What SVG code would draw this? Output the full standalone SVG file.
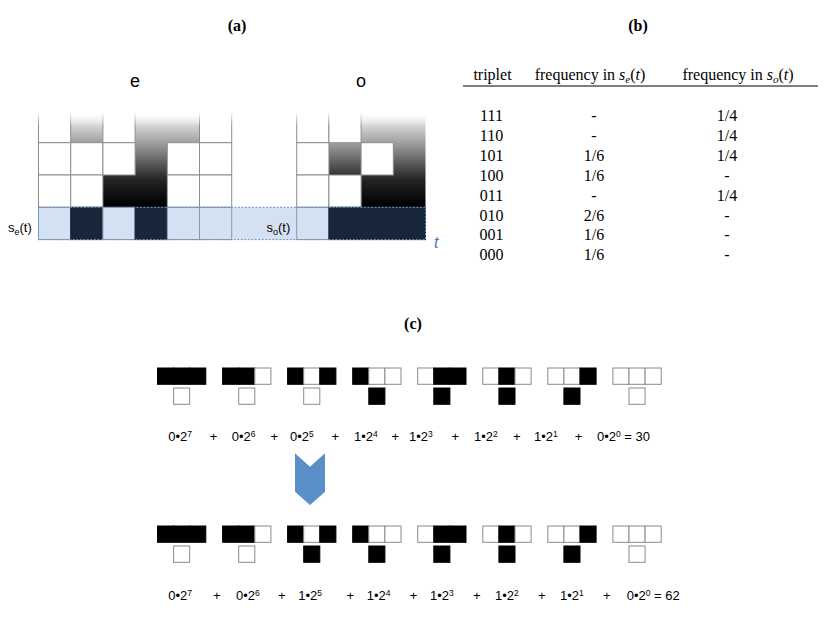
<svg xmlns="http://www.w3.org/2000/svg" width="830" height="623" viewBox="0 0 830 623">
<defs>
<linearGradient id="shade" gradientUnits="userSpaceOnUse" x1="0" y1="112" x2="0" y2="205">
<stop offset="0" stop-color="#ffffff"/>
<stop offset="0.35" stop-color="#9a9a9a"/>
<stop offset="0.72" stop-color="#262626"/>
<stop offset="1" stop-color="#000000"/>
</linearGradient>
<linearGradient id="fade" gradientUnits="userSpaceOnUse" x1="0" y1="108" x2="0" y2="126">
<stop offset="0" stop-color="#ffffff" stop-opacity="1"/>
<stop offset="0.2" stop-color="#ffffff" stop-opacity="1"/>
<stop offset="1" stop-color="#ffffff" stop-opacity="0"/>
</linearGradient>
<style>
.gw{fill:#ffffff;stroke:#8c8c8c;stroke-width:1}
.gl{fill:#d4e1f2;stroke:#8d97a6;stroke-width:1}
.gd{fill:#17263a;stroke:#17263a;stroke-width:1}
.sh{fill:url(#shade);stroke:none}
.w{fill:#ffffff;stroke:#8a8a8a;stroke-width:1}
.k{fill:#000000;stroke:#000000;stroke-width:1}
.ttl{font-family:"Liberation Serif","Times New Roman",serif;font-weight:bold;font-size:16px;text-anchor:middle;fill:#000}
.tb{font-family:"Liberation Serif","Times New Roman",serif;font-size:16px;text-anchor:middle;fill:#000}
.sans{font-family:"Liberation Sans",Arial,sans-serif;fill:#000}
.f{font-family:"Liberation Sans",Arial,sans-serif;font-size:13px;fill:#000}
.p{font-family:"Liberation Sans",Arial,sans-serif;font-size:13px;fill:#000;text-anchor:middle}
.sup{font-size:8.5px}
</style>
</defs>
<rect width="830" height="623" fill="#ffffff"/>

<!-- Titles -->
<g id="title-a"><text class="ttl" x="237" y="31">(a)</text></g>
<g id="title-b"><text class="ttl" x="638" y="31">(b)</text></g>
<g id="title-c"><text class="ttl" x="413" y="329">(c)</text></g>

<!-- Panel (a) -->
<g id="panel-a">
<text class="sans" x="135" y="86.5" font-size="18" text-anchor="middle">e</text>
<text class="sans" x="361" y="86.5" font-size="18" text-anchor="middle">o</text>

<rect x="38.5" y="207.3" width="387" height="32.3" fill="#d4e1f2"/>

<g id="grid-e">
<rect class="sh" x="70.7" y="110.4" width="32.2" height="32.3"/>
<polygon class="sh" points="135.1,110.4 199.5,110.4 199.5,142.7 167.3,142.7 167.3,207.3 102.9,207.3 102.9,175 135.1,175"/>
<rect class="gw" x="38.5" y="110.4" width="32.2" height="32.3"/>
<rect class="gw" x="102.9" y="110.4" width="32.2" height="32.3"/>
<rect class="gw" x="199.5" y="110.4" width="32.2" height="32.3"/>
<rect class="gw" x="38.5" y="142.7" width="32.2" height="32.3"/>
<rect class="gw" x="70.7" y="142.7" width="32.2" height="32.3"/>
<rect class="gw" x="102.9" y="142.7" width="32.2" height="32.3"/>
<rect class="gw" x="167.3" y="142.7" width="32.2" height="32.3"/>
<rect class="gw" x="199.5" y="142.7" width="32.2" height="32.3"/>
<rect class="gw" x="38.5" y="175" width="32.2" height="32.3"/>
<rect class="gw" x="70.7" y="175" width="32.2" height="32.3"/>
<rect class="gw" x="167.3" y="175" width="32.2" height="32.3"/>
<rect class="gw" x="199.5" y="175" width="32.2" height="32.3"/>
<rect class="gl" x="38.5" y="207.3" width="32.2" height="32.3"/>
<rect class="gd" x="70.7" y="207.3" width="32.2" height="32.3"/>
<rect class="gl" x="102.9" y="207.3" width="32.2" height="32.3"/>
<rect class="gd" x="135.1" y="207.3" width="32.2" height="32.3"/>
<rect class="gl" x="167.3" y="207.3" width="32.2" height="32.3"/>
<rect class="gl" x="199.5" y="207.3" width="32.2" height="32.3"/>
</g>

<g id="grid-o">
<rect class="sh" x="328.9" y="142.7" width="32.2" height="32.3"/>
<rect class="sh" x="361.1" y="110.4" width="64.4" height="96.9"/>
<rect class="gw" x="296.7" y="110.4" width="32.2" height="32.3"/>
<rect class="gw" x="328.9" y="110.4" width="32.2" height="32.3"/>
<rect class="gw" x="296.7" y="142.7" width="32.2" height="32.3"/>
<rect class="gw" x="361.1" y="142.7" width="32.2" height="32.3"/>
<rect class="gw" x="296.7" y="175" width="32.2" height="32.3"/>
<rect class="gw" x="328.9" y="175" width="32.2" height="32.3"/>
<rect class="gl" x="296.7" y="207.3" width="32.2" height="32.3"/>
<rect class="gd" x="328.9" y="207.3" width="96.6" height="32.3"/>
</g>

<rect x="34" y="106" width="396" height="20" fill="url(#fade)"/>

<rect x="38.5" y="207.3" width="387" height="32.3" fill="none" stroke="#6f93c4" stroke-width="1" stroke-dasharray="2,1.5"/>

<text class="sans" x="8" y="232" font-size="13">s<tspan font-size="9" dy="3">e</tspan><tspan dy="-3">(t)</tspan></text>
<text class="sans" x="266.5" y="232" font-size="13">s<tspan font-size="9" dy="3">o</tspan><tspan dy="-3">(t)</tspan></text>
<text class="sans" x="434" y="248" font-size="16" font-style="italic" style="fill:#4a78b8">t</text>
</g>

<!-- Panel (b) table -->
<g id="table-b">
<text class="tb" x="492.5" y="80">triplet</text>
<text class="tb" x="590" y="80">frequency in <tspan font-style="italic">s</tspan><tspan font-style="italic" font-size="11" dy="3">e</tspan><tspan dy="-3">(</tspan><tspan font-style="italic">t</tspan>)</text>
<text class="tb" x="738" y="80">frequency in <tspan font-style="italic">s</tspan><tspan font-style="italic" font-size="11" dy="3">o</tspan><tspan dy="-3">(</tspan><tspan font-style="italic">t</tspan>)</text>
<line x1="463" y1="86" x2="818" y2="86" stroke="#000" stroke-width="1"/>

<text class="tb" x="491.5" y="121">111</text>
<text class="tb" x="491.5" y="141">110</text>
<text class="tb" x="491.5" y="160.8">101</text>
<text class="tb" x="491.5" y="180.7">100</text>
<text class="tb" x="491.5" y="200.6">011</text>
<text class="tb" x="491.5" y="220.5">010</text>
<text class="tb" x="491.5" y="240.4">001</text>
<text class="tb" x="491.5" y="260.3">000</text>

<text class="tb" x="594" y="121">-</text>
<text class="tb" x="594" y="141">-</text>
<text class="tb" x="594" y="160.8">1/6</text>
<text class="tb" x="594" y="180.7">1/6</text>
<text class="tb" x="594" y="200.6">-</text>
<text class="tb" x="594" y="220.5">2/6</text>
<text class="tb" x="594" y="240.4">1/6</text>
<text class="tb" x="594" y="260.3">1/6</text>

<text class="tb" x="727" y="121">1/4</text>
<text class="tb" x="727" y="141">1/4</text>
<text class="tb" x="727" y="160.8">1/4</text>
<text class="tb" x="727" y="180.7">-</text>
<text class="tb" x="727" y="200.6">1/4</text>
<text class="tb" x="727" y="220.5">-</text>
<text class="tb" x="727" y="240.4">-</text>
<text class="tb" x="727" y="260.3">-</text>
</g>

<!-- Panel (c) rule 30 row -->
<g id="rule30-icons">
<g transform="translate(157.5,368)"><rect class="k" x="0" y="0" width="16.1" height="16.3"/><rect class="k" x="16.1" y="0" width="16.1" height="16.3"/><rect class="k" x="32.2" y="0" width="16.1" height="16.3"/><rect class="w" x="16.1" y="20" width="16.1" height="16.3"/></g>
<g transform="translate(222.6,368)"><rect class="k" x="0" y="0" width="16.1" height="16.3"/><rect class="k" x="16.1" y="0" width="16.1" height="16.3"/><rect class="w" x="32.2" y="0" width="16.1" height="16.3"/><rect class="w" x="16.1" y="20" width="16.1" height="16.3"/></g>
<g transform="translate(287.6,368)"><rect class="k" x="0" y="0" width="16.1" height="16.3"/><rect class="w" x="16.1" y="0" width="16.1" height="16.3"/><rect class="k" x="32.2" y="0" width="16.1" height="16.3"/><rect class="w" x="16.1" y="20" width="16.1" height="16.3"/></g>
<g transform="translate(352.7,368)"><rect class="k" x="0" y="0" width="16.1" height="16.3"/><rect class="w" x="16.1" y="0" width="16.1" height="16.3"/><rect class="w" x="32.2" y="0" width="16.1" height="16.3"/><rect class="k" x="16.1" y="20" width="16.1" height="16.3"/></g>
<g transform="translate(417.7,368)"><rect class="w" x="0" y="0" width="16.1" height="16.3"/><rect class="k" x="16.1" y="0" width="16.1" height="16.3"/><rect class="k" x="32.2" y="0" width="16.1" height="16.3"/><rect class="k" x="16.1" y="20" width="16.1" height="16.3"/></g>
<g transform="translate(482.8,368)"><rect class="w" x="0" y="0" width="16.1" height="16.3"/><rect class="k" x="16.1" y="0" width="16.1" height="16.3"/><rect class="w" x="32.2" y="0" width="16.1" height="16.3"/><rect class="k" x="16.1" y="20" width="16.1" height="16.3"/></g>
<g transform="translate(547.8,368)"><rect class="w" x="0" y="0" width="16.1" height="16.3"/><rect class="w" x="16.1" y="0" width="16.1" height="16.3"/><rect class="k" x="32.2" y="0" width="16.1" height="16.3"/><rect class="k" x="16.1" y="20" width="16.1" height="16.3"/></g>
<g transform="translate(612.9,368)"><rect class="w" x="0" y="0" width="16.1" height="16.3"/><rect class="w" x="16.1" y="0" width="16.1" height="16.3"/><rect class="w" x="32.2" y="0" width="16.1" height="16.3"/><rect class="w" x="16.1" y="20" width="16.1" height="16.3"/></g>
</g>

<g id="rule30-formula">
<text class="f" x="168.3" y="441">0•2<tspan class="sup" dy="-4.5">7</tspan></text>
<text class="p" x="213.5" y="441">+</text>
<text class="f" x="231.7" y="441">0•2<tspan class="sup" dy="-4.5">6</tspan></text>
<text class="p" x="274.2" y="441">+</text>
<text class="f" x="290" y="441">0•2<tspan class="sup" dy="-4.5">5</tspan></text>
<text class="p" x="335.2" y="441">+</text>
<text class="f" x="354" y="441">1•2<tspan class="sup" dy="-4.5">4</tspan></text>
<text class="p" x="395.2" y="441">+</text>
<text class="f" x="409" y="441">1•2<tspan class="sup" dy="-4.5">3</tspan></text>
<text class="p" x="455.2" y="441">+</text>
<text class="f" x="474" y="441">1•2<tspan class="sup" dy="-4.5">2</tspan></text>
<text class="p" x="516.8" y="441">+</text>
<text class="f" x="534" y="441">1•2<tspan class="sup" dy="-4.5">1</tspan></text>
<text class="p" x="578.5" y="441">+</text>
<text class="f" x="597" y="441">0•2<tspan class="sup" dy="-4.5">0</tspan><tspan dy="4.5"> = 30</tspan></text>
</g>

<!-- Connector: chevron arrow -->
<g id="connectors">
<polygon points="295,453.3 310,466.7 325,453.3 325,491.7 310,505 295,491.7" fill="#5b8fc9"/>
</g>

<!-- Panel (c) rule 62 row -->
<g id="rule62-icons">
<g transform="translate(157.5,526)"><rect class="k" x="0" y="0" width="16.1" height="16.3"/><rect class="k" x="16.1" y="0" width="16.1" height="16.3"/><rect class="k" x="32.2" y="0" width="16.1" height="16.3"/><rect class="w" x="16.1" y="20" width="16.1" height="16.3"/></g>
<g transform="translate(222.6,526)"><rect class="k" x="0" y="0" width="16.1" height="16.3"/><rect class="k" x="16.1" y="0" width="16.1" height="16.3"/><rect class="w" x="32.2" y="0" width="16.1" height="16.3"/><rect class="w" x="16.1" y="20" width="16.1" height="16.3"/></g>
<g transform="translate(287.6,526)"><rect class="k" x="0" y="0" width="16.1" height="16.3"/><rect class="w" x="16.1" y="0" width="16.1" height="16.3"/><rect class="k" x="32.2" y="0" width="16.1" height="16.3"/><rect class="k" x="16.1" y="20" width="16.1" height="16.3"/></g>
<g transform="translate(352.7,526)"><rect class="k" x="0" y="0" width="16.1" height="16.3"/><rect class="w" x="16.1" y="0" width="16.1" height="16.3"/><rect class="w" x="32.2" y="0" width="16.1" height="16.3"/><rect class="k" x="16.1" y="20" width="16.1" height="16.3"/></g>
<g transform="translate(417.7,526)"><rect class="w" x="0" y="0" width="16.1" height="16.3"/><rect class="k" x="16.1" y="0" width="16.1" height="16.3"/><rect class="k" x="32.2" y="0" width="16.1" height="16.3"/><rect class="k" x="16.1" y="20" width="16.1" height="16.3"/></g>
<g transform="translate(482.8,526)"><rect class="w" x="0" y="0" width="16.1" height="16.3"/><rect class="k" x="16.1" y="0" width="16.1" height="16.3"/><rect class="w" x="32.2" y="0" width="16.1" height="16.3"/><rect class="k" x="16.1" y="20" width="16.1" height="16.3"/></g>
<g transform="translate(547.8,526)"><rect class="w" x="0" y="0" width="16.1" height="16.3"/><rect class="w" x="16.1" y="0" width="16.1" height="16.3"/><rect class="k" x="32.2" y="0" width="16.1" height="16.3"/><rect class="k" x="16.1" y="20" width="16.1" height="16.3"/></g>
<g transform="translate(612.9,526)"><rect class="w" x="0" y="0" width="16.1" height="16.3"/><rect class="w" x="16.1" y="0" width="16.1" height="16.3"/><rect class="w" x="32.2" y="0" width="16.1" height="16.3"/><rect class="w" x="16.1" y="20" width="16.1" height="16.3"/></g>
</g>

<g id="rule62-formula">
<text class="f" x="168.3" y="600">0•2<tspan class="sup" dy="-4.5">7</tspan></text>
<text class="p" x="216.8" y="600">+</text>
<text class="f" x="236" y="600">0•2<tspan class="sup" dy="-4.5">6</tspan></text>
<text class="p" x="281.8" y="600">+</text>
<text class="f" x="298.3" y="600">1•2<tspan class="sup" dy="-4.5">5</tspan></text>
<text class="p" x="350.2" y="600">+</text>
<text class="f" x="366.7" y="600">1•2<tspan class="sup" dy="-4.5">4</tspan></text>
<text class="p" x="413.5" y="600">+</text>
<text class="f" x="430" y="600">1•2<tspan class="sup" dy="-4.5">3</tspan></text>
<text class="p" x="476.8" y="600">+</text>
<text class="f" x="495" y="600">1•2<tspan class="sup" dy="-4.5">2</tspan></text>
<text class="p" x="541.8" y="600">+</text>
<text class="f" x="560" y="600">1•2<tspan class="sup" dy="-4.5">1</tspan></text>
<text class="p" x="606.8" y="600">+</text>
<text class="f" x="626.7" y="600">0•2<tspan class="sup" dy="-4.5">0</tspan><tspan dy="4.5"> = 62</tspan></text>
</g>
</svg>
